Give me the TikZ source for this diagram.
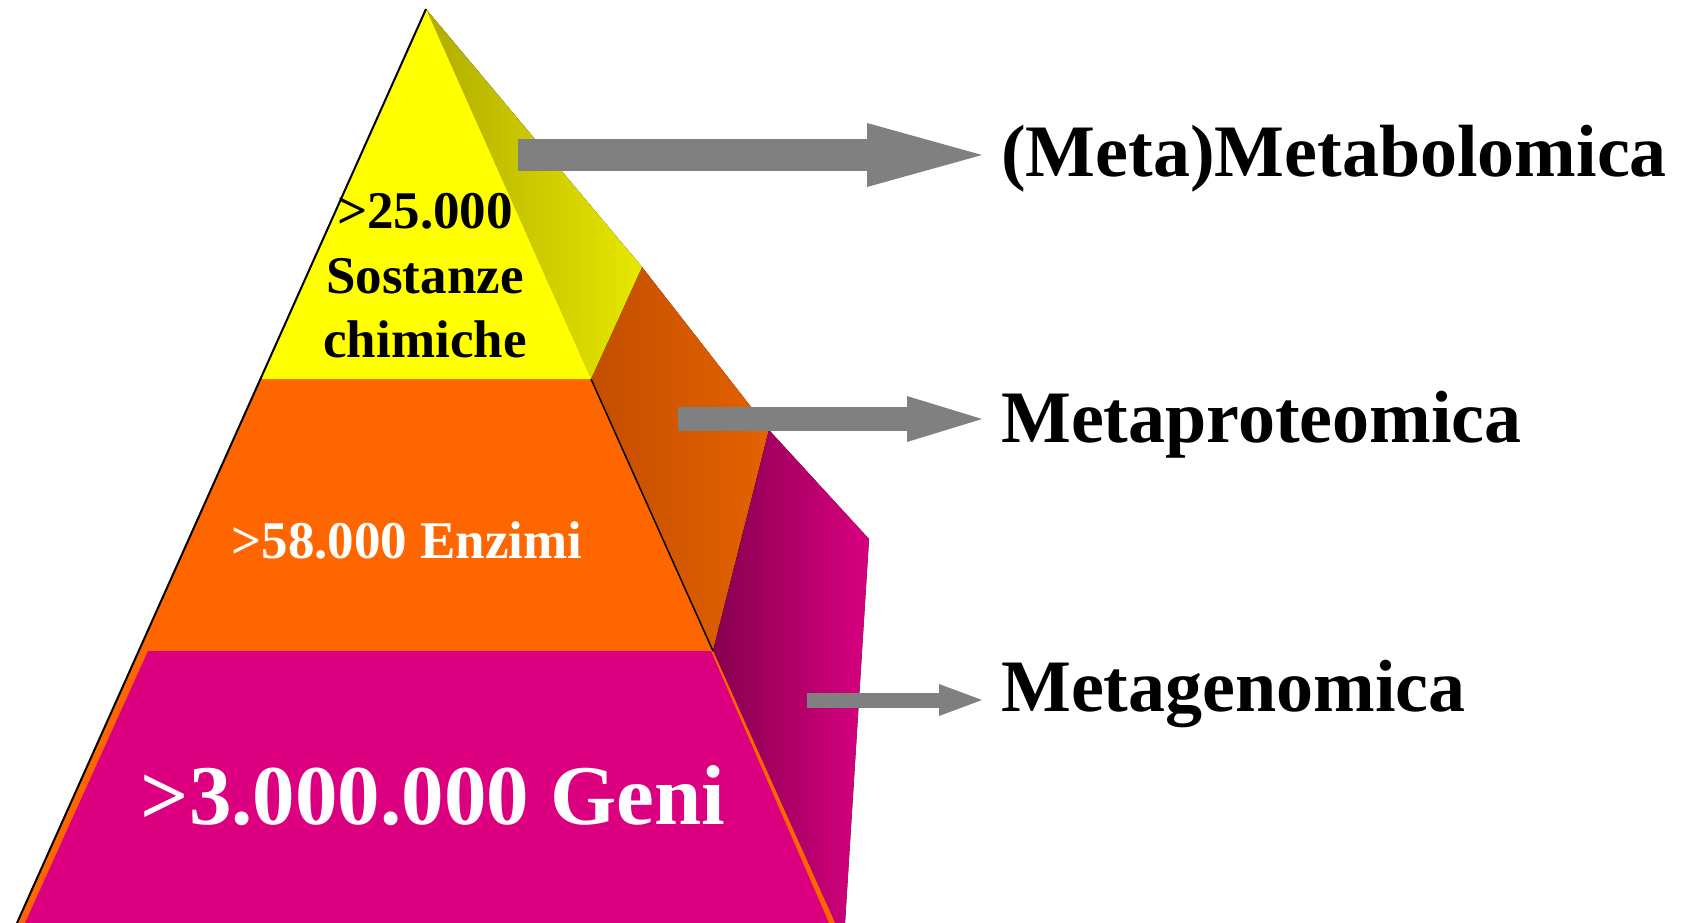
\documentclass[tikz,border=0pt]{standalone}
\usepackage{fontspec}
\setmainfont{Liberation Serif}
\usetikzlibrary{arrows.meta, positioning, calc}
\definecolor{pyryellow}{RGB}{255, 255, 0}
\definecolor{pyrorange}{RGB}{255, 102, 0}
\definecolor{pyrmagenta}{RGB}{220, 0, 128}
\definecolor{arrowgray}{RGB}{128, 128, 128}

\begin{document}
\begin{tikzpicture}[
    x=1pt, y=-1pt,
    tiertext/.style={inner sep=0pt, align=center, font=\bfseries\fontsize{53}{64.5}\selectfont},
    omiclabel/.style={inner sep=0pt, anchor=base west, font=\bfseries\fontsize{74}{80}\selectfont},
    omicarrow/.style n args={3}{draw=arrowgray, line width=#1, shorten >=19pt,
                -{Triangle[length=#2, width=#3, line width=0pt]}}
]
    \useasboundingbox (0,0) rectangle (1689,923);

    % Corners of the pyramid
    \coordinate (apex) at (426,9);
    \coordinate (ybl) at (261,379);
    \coordinate (ybr) at (591,379);
    \coordinate (obl) at (139,651);
    \coordinate (obr) at (713,651);
    \coordinate (bl) at (17,923);
    \coordinate (br) at (835,923);
    \coordinate (yback) at (642,267);
    \coordinate (oback) at (769,430);
    \coordinate (mback) at (869,539);
    \coordinate (mfoot) at (845,923);

    % Side faces
    \fill[left color={rgb,255:red,196;green,78;blue,0}, right color={rgb,255:red,228;green,98;blue,0}]
        (ybr) -- (yback) -- (oback) -- (obr) -- cycle;
    \fill[left color={rgb,255:red,135;green,0;blue,78}, right color={rgb,255:red,216;green,0;blue,128}]
        (obr) -- (oback) -- (mback) -- (mfoot) -- (br) -- cycle;
    \fill[left color={rgb,255:red,176;green,172;blue,0}, right color={rgb,255:red,232;green,232;blue,0}]
        (apex) -- (yback) -- (ybr) -- cycle;

    % Front face
    \fill[pyrorange] (ybl) -- (ybr) -- (br) -- (bl) -- cycle;
    \fill[pyrmagenta] (148,651) -- (711,651) -- (829,923) -- (25,923) -- cycle;
    \fill[pyryellow] (apex) -- (ybr) -- (ybl) -- cycle;
    \draw[line width=2pt] (apex) -- (bl);
    \draw[line width=1.5pt] (ybr) -- (obr);

    % Tier texts
    \node[tiertext] (chem) at (425,276) {>25.000\\Sostanze\\chimiche};
    \node[tiertext, text=white, anchor=base, font=\bfseries\fontsize{53}{60}\selectfont] (enz) at (407,558) {>58.000 Enzimi};
    \node[tiertext, text=white, anchor=base, font=\bfseries\fontsize{85}{95}\selectfont] (genes) at (433,824) {>3.000.000 Geni};

    % Omics levels
    \node[omiclabel] (metab) at (1001,176) {(Meta)Metabolomica};
    \node[omiclabel] (metaprot) at (1001,442) {Metaproteomica};
    \node[omiclabel] (metagen) at (1001,711) {Metagenomica};

    % Arrows
    \coordinate (t1) at (518,155);
    \coordinate (t2) at (678,419);
    \coordinate (t3) at (807,700);
    \draw[omicarrow={32pt}{115pt}{64pt}] (t1) -- (t1 -| metab.west);
    \draw[omicarrow={24pt}{75pt}{46pt}] (t2) -- (t2 -| metaprot.west);
    \draw[omicarrow={15pt}{43pt}{32pt}] (t3) -- (t3 -| metagen.west);
\end{tikzpicture}
\end{document}
